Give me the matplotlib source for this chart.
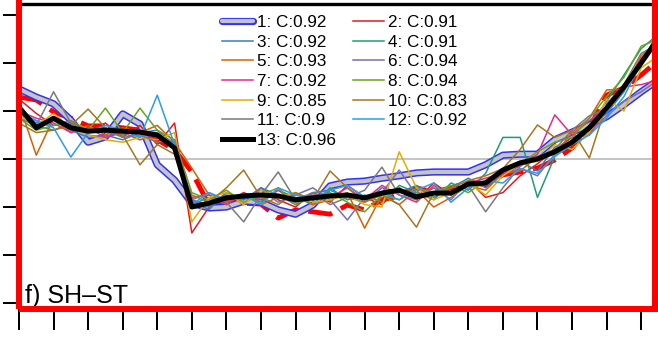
import matplotlib
matplotlib.use("Agg")
import matplotlib.pyplot as plt
import matplotlib.patheffects as pe
from matplotlib.patches import Rectangle

plt.rcParams['font.family'] = ['Liberation Sans', 'DejaVu Sans']

# ---------------------------------------------------------
# data: 38 time steps, one list per ensemble member
# ---------------------------------------------------------
steps = list(range(38))

labels = ["1: C:0.92", "2: C:0.91", "3: C:0.92", "4: C:0.91", "5: C:0.93",
          "6: C:0.94", "7: C:0.92", "8: C:0.94", "9: C:0.85", "10: C:0.83",
          "11: C:0.9", "12: C:0.92", "13: C:0.96"]

obs = [1.29, 1.23, 0.98, 0.85, 0.69, 0.69, 0.65, 0.60, 0.40, 0.19,
       -0.27, -0.96, -0.85, -0.92, -0.94, -1.23, -1.06, -1.10, -1.15, -0.96,
       -1.06, -0.85, -0.77, -0.60, -0.69, -0.60, -0.48, -0.54, -0.33, -0.27,
       -0.19, -0.02, 0.23, 0.65, 1.33, 1.48, 1.75, 2.06]

m01 = [1.46, 1.29, 1.15, 0.81, 0.35, 0.46, 0.94, 0.73, -0.12, -0.44,
       -0.92, -1.02, -1.00, -0.88, -0.90, -1.06, -1.15, -0.96, -0.56, -0.48,
       -0.46, -0.40, -0.35, -0.29, -0.27, -0.27, -0.27, -0.12, 0.08, 0.10,
       0.10, 0.40, 0.56, 0.71, 0.88, 1.13, 1.40, 1.65]
m02 = [1.25, 0.95, 0.70, 0.80, 0.55, 0.75, 0.45, 0.70, 0.30, 0.75,
       -1.54, -1.00, -0.70, -0.95, -0.60, -0.85, -1.00, -0.70, -0.90, -0.55,
       -0.80, -0.95, -0.60, -0.85, -0.50, -0.75, -0.45, -0.80, -0.70, -0.35,
       -0.10, 0.20, 0.45, 0.50, 1.05, 1.45, 2.10, 2.45]
m03 = [1.00, 0.75, 0.80, 0.60, 0.45, 0.50, 0.40, 0.55, 0.60, 0.30,
       -0.90, -1.05, -0.70, -0.85, -0.60, -0.75, -0.95, -0.70, -0.65, -0.80,
       -0.90, -0.60, -0.70, -0.55, -0.80, -0.60, -0.40, -0.60, -0.30, -0.05,
       -0.25, 0.25, 0.30, 0.70, 0.95, 1.40, 2.05, 2.55]
m04 = [1.10, 0.70, 0.60, 0.75, 0.55, 0.65, 0.50, 0.60, 0.45, 0.35,
       -0.95, -0.80, -0.95, -0.70, -0.90, -0.65, -0.80, -0.95, -0.60, -0.85,
       -0.75, -0.90, -0.55, -0.70, -0.85, -0.50, -0.65, -0.30, 0.45, 0.45,
       -0.80, 0.05, 0.40, 0.70, 1.20, 1.75, 2.30, 2.60]
m05 = [1.15, 0.08, 0.85, 0.55, 0.70, 0.50, 0.65, 0.55, 0.70, 0.35,
       -0.19, -0.75, -0.90, -0.70, -0.95, -0.80, -0.70, -0.95, -0.85, -0.70,
       -1.44, -0.75, -0.95, -0.65, -1.00, -0.80, -0.55, -0.65, -0.30, -0.25,
       0.05, 0.10, 0.55, 0.85, 1.44, 1.45, 2.15, 2.45]
m06 = [0.95, 0.80, 0.70, 0.75, 0.50, 0.45, 0.60, 0.45, 0.55, 0.25,
       -0.85, -1.00, -0.75, -0.80, -0.65, -0.90, -0.75, -0.60, -0.85, -1.27,
       -0.80, -0.70, -0.23, -0.75, -0.60, -0.85, -0.45, -0.55, -0.30, -0.20,
       -0.35, 0.10, 0.35, 0.55, 0.90, 1.20, 1.40, 1.65]
m07 = [1.00, 0.85, 0.75, 0.55, 0.65, 0.45, 0.55, 0.40, 0.50, 0.20,
       -0.80, -0.75, -0.95, -0.70, -0.85, -0.65, -0.90, -0.75, -0.80, -0.60,
       -0.85, -0.55, -0.75, -0.90, -0.55, -0.75, -0.50, -0.40, -0.30, -0.15,
       0.10, 0.92, 0.50, 0.80, 1.10, 1.50, 1.55, 1.65]
m08 = [0.85, 0.60, 0.70, 0.80, 0.60, 1.06, 0.55, 1.06, 0.60, 0.40,
       -0.70, -0.85, -0.65, -0.90, -0.75, -0.60, -0.95, -0.80, -0.70, -0.90,
       -1.10, -0.75, -0.85, -0.60, -0.70, -0.55, -0.70, -0.45, -0.25, -0.10,
       0.15, 0.35, 0.45, 0.85, 1.30, 1.70, 2.35, 2.50]
m09 = [0.90, 0.70, 0.95, 0.65, 0.50, 0.40, 0.35, 0.45, 0.40, 0.55,
       -1.31, -0.80, -0.70, -0.95, -0.65, -0.80, -0.70, -0.90, -0.85, -0.75,
       -0.95, -1.00, 0.15, -0.60, -0.85, -0.70, -0.50, -0.75, -0.35, -0.10,
       -0.05, 0.30, 0.20, 0.55, 1.25, 1.00, 1.90, 2.15]
m10 = [0.75, 0.55, 0.60, 0.70, 1.04, 0.65, 0.50, -0.12, 0.30, 0.10,
       -0.75, -0.90, -0.60, -0.23, -0.80, -0.95, -0.70, -0.85, -0.25, -0.60,
       -0.90, -0.75, -0.95, -1.42, -0.70, -0.60, -0.45, -0.35, -0.20, 0.20,
       0.71, 0.45, 0.60, 0.02, 1.15, 1.55, 2.05, 2.45]
m11 = [0.85, 0.70, 1.40, 0.75, 0.55, 0.60, 0.45, 0.50, 0.35, 0.40,
       -0.85, -0.70, -0.90, -1.31, -0.75, -0.27, -0.85, -0.70, -0.95, -0.80,
       -0.65, -0.17, -0.75, -0.85, -0.60, -0.70, -0.55, -1.10, -0.60, -0.15,
       0.05, 0.20, 0.60, 0.90, 1.05, 1.55, 2.20, 2.40]
m12 = [1.00, 0.80, 0.65, 0.04, 0.55, 0.70, 0.60, 0.45, 1.33, 0.30,
       -0.95, -0.70, -0.85, -0.75, -0.95, -0.60, -0.75, -0.85, -0.65, -0.55,
       -0.80, -0.70, -0.85, -0.65, -0.50, -0.90, -0.60, -0.45, -0.50, -0.20,
       -0.30, 0.05, 0.30, 0.50, 0.85, 1.30, 2.00, 2.65]
m13 = [1.08, 0.65, 0.85, 0.65, 0.58, 0.60, 0.58, 0.56, 0.50, 0.23,
       -1.00, -0.92, -0.81, -0.77, -0.75, -0.77, -0.85, -0.81, -0.77, -0.75,
       -0.81, -0.71, -0.65, -0.79, -0.71, -0.71, -0.52, -0.50, -0.23, -0.08,
       0.00, 0.15, 0.35, 0.65, 1.06, 1.50, 2.00, 2.52]

thin_members = [m02, m03, m04, m05, m06, m07, m08, m09, m10, m11, m12]
thin_colors = ['#e41a1c', '#377eb8', '#1b9e77', '#d95f02', '#7570b3',
               '#e7298a', '#66a61e', '#e6ab02', '#a6761d', '#7a7a7a', '#2b9ced']

# ---------------------------------------------------------
# figure
# ---------------------------------------------------------
W, H = 658, 346
fig = plt.figure(figsize=(W / 100, H / 100), dpi=100)
ax = fig.add_axes([19 / W, (H - 309) / H, 636 / W, 305.5 / H])

ax.axhline(0, color='#b4b4b4', lw=1.1, zorder=1)

# observations: thick red, mostly hidden under the members
ax.plot(steps, obs, color='#ff0000', lw=3.5, dashes=(5, 2), zorder=2)

handles = []
h1, = ax.plot(steps, m01, color='#c4c4c4', lw=3.0, zorder=3,
              solid_capstyle='round', label=labels[0],
              path_effects=[pe.Stroke(linewidth=5.2, foreground='#3030ff'), pe.Normal()])
handles.append(h1)
for vals, col, lab in zip(thin_members, thin_colors, labels[1:12]):
    h, = ax.plot(steps, vals, color=col, lw=1.1, zorder=4, label=lab)
    handles.append(h)
h13, = ax.plot(steps, m13, color='black', lw=3.6, zorder=5, label=labels[12])
handles.append(h13)

ax.set_xlim(0, 36.8)
ax.set_ylim(-3.125, 3.24)
ax.set_xticks(range(0, 37, 2))
ax.set_yticks(range(-3, 4))
ax.tick_params(axis='both', direction='out', width=1.45, color='black',
               labelleft=False, labelbottom=False)
ax.tick_params(axis='x', length=15)
ax.tick_params(axis='y', length=11.5)
for side in ('left', 'right', 'bottom'):
    ax.spines[side].set_visible(False)
ax.spines['top'].set_linewidth(2.4)
ax.spines['top'].set_color('black')

# legend in two columns, filled row by row
order = [0, 2, 4, 6, 8, 10, 12, 1, 3, 5, 7, 9, 11]
ax.legend([handles[i] for i in order], [labels[i] for i in order],
          ncol=2, frameon=False, fontsize=12.3, loc='upper left',
          bbox_to_anchor=(0.319, 0.962), borderpad=0, borderaxespad=0,
          handlelength=1.8, handletextpad=0.25, columnspacing=1.0,
          labelspacing=0.27)

ax.text(0.0094, 0.02, "f) SH\u2013ST", transform=ax.transAxes,
        fontsize=18, ha='left', va='baseline', zorder=6)

# red highlight frame around the panel
fig.patches.append(Rectangle((19 / W, (H - 309) / H), 636 / W, 1.0,
                             transform=fig.transFigure, fill=False,
                             edgecolor='#ff0000', lw=4.3, zorder=10))

fig.savefig("out.png", dpi=100)
